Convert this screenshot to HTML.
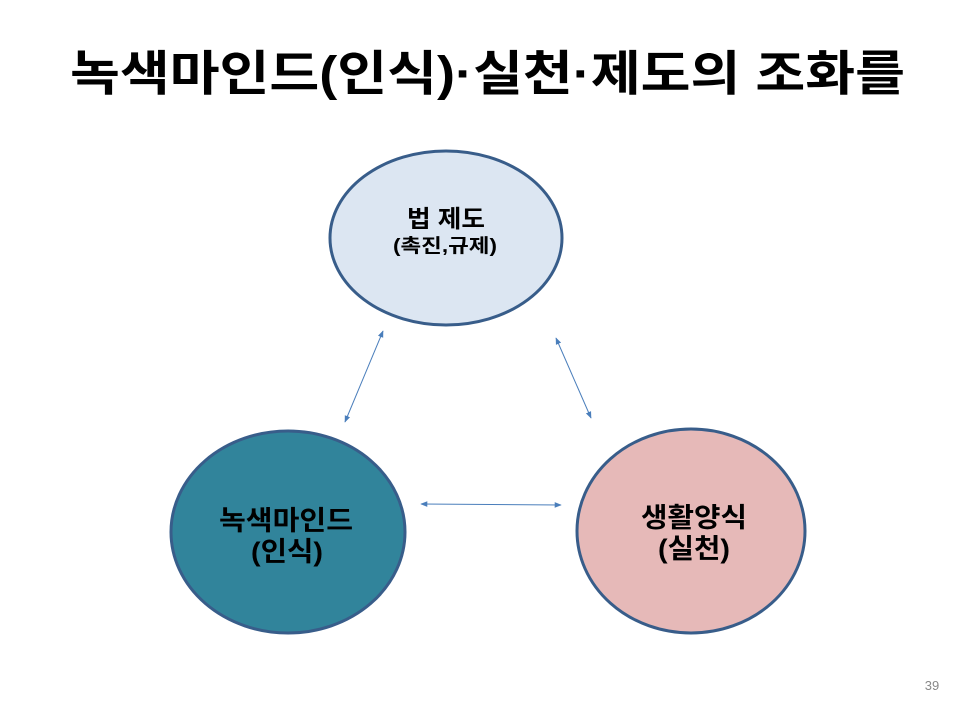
<!DOCTYPE html>
<html><head><meta charset="utf-8"><style>
html,body{margin:0;padding:0;background:#fff;}
svg{display:block;}
text{font-family:"Liberation Sans","Noto Sans CJK KR",sans-serif;font-weight:bold;}
</style></head><body>
<svg width="960" height="720" viewBox="0 0 960 720" xmlns="http://www.w3.org/2000/svg">
<defs>
<marker id="a" viewBox="0 0 10 10" refX="9" refY="5" markerWidth="7" markerHeight="7" orient="auto-start-reverse">
<path d="M0,1 L10,5 L0,9 z" fill="#4a7ebb"/>
</marker>
</defs>
<text x="70" y="90" font-size="48" textLength="835" lengthAdjust="spacingAndGlyphs" fill="#000">녹색마인드(인식)·실천·제도의 조화를</text>
<ellipse cx="446" cy="238" rx="116" ry="87" fill="#dce6f2" stroke="#385d8a" stroke-width="3"/>
<ellipse cx="288" cy="532" rx="117" ry="101" fill="#31849b" stroke="#385d8a" stroke-width="3"/>
<ellipse cx="691" cy="531" rx="114" ry="102" fill="#e6b9b8" stroke="#385d8a" stroke-width="3"/>
<text x="407" y="227" font-size="24" textLength="78" lengthAdjust="spacingAndGlyphs" fill="#000">법 제도</text>
<text x="393" y="252" font-size="19" textLength="104" lengthAdjust="spacingAndGlyphs" fill="#000">(촉진,규제)</text>
<text x="219" y="530" font-size="27" textLength="134" lengthAdjust="spacingAndGlyphs" fill="#000">녹색마인드</text>
<text x="251" y="561" font-size="27" textLength="72" lengthAdjust="spacingAndGlyphs" fill="#000">(인식)</text>
<text x="641" y="527" font-size="27" textLength="106" lengthAdjust="spacingAndGlyphs" fill="#000">생활양식</text>
<text x="658" y="558" font-size="27" textLength="72" lengthAdjust="spacingAndGlyphs" fill="#000">(실천)</text>
<line x1="383" y1="331" x2="345" y2="422" stroke="#4a7ebb" stroke-width="1" marker-start="url(#a)" marker-end="url(#a)"/>
<line x1="556" y1="338" x2="591" y2="418" stroke="#4a7ebb" stroke-width="1" marker-start="url(#a)" marker-end="url(#a)"/>
<line x1="421" y1="504" x2="561" y2="505" stroke="#4a7ebb" stroke-width="1" marker-start="url(#a)" marker-end="url(#a)"/>
<text x="932" y="690" font-size="13" text-anchor="middle" fill="#888" style="font-weight:normal">39</text>
</svg>
</body></html>
